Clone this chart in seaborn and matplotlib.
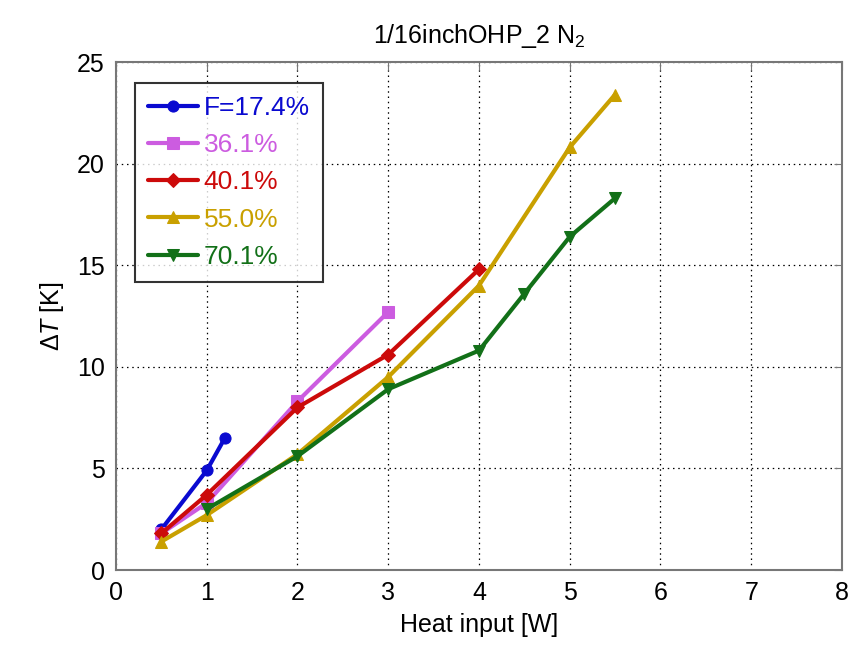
import matplotlib
matplotlib.use("Agg")
import matplotlib.pyplot as plt
import seaborn as sns
import pandas as pd

labels = ["F=17.4%", "36.1%", "40.1%", "55.0%", "70.1%"]
x_174 = [0.5, 1.0, 1.2]
y_174 = [2.0, 4.9, 6.5]
x_361 = [0.5, 1.0, 2.0, 3.0]
y_361 = [1.8, 3.3, 8.3, 12.7]
x_401 = [0.5, 1.0, 2.0, 3.0, 4.0]
y_401 = [1.8, 3.7, 8.0, 10.6, 14.8]
x_550 = [0.5, 1.0, 2.0, 3.0, 4.0, 5.0, 5.5]
y_550 = [1.4, 2.7, 5.7, 9.5, 14.0, 20.8, 23.4]
x_701 = [1.0, 2.0, 3.0, 4.0, 4.5, 5.0, 5.5]
y_701 = [3.0, 5.6, 8.9, 10.8, 13.6, 16.4, 18.3]
colors = ["#0a0ad0", "#cc5ce0", "#cc0a0a", "#c9a000", "#127018"]
markers = ["o", "s", "D", "^", "v"]
msizes = [8, 8, 7, 9, 9]

xs = [x_174, x_361, x_401, x_550, x_701]
ys = [y_174, y_361, y_401, y_550, y_701]
frames = []
for lab, xv, yv in zip(labels, xs, ys):
    frames.append(pd.DataFrame({"x": xv, "y": yv, "series": lab}))
df = pd.concat(frames, ignore_index=True)

sns.set_style("white")
plt.rcParams["font.family"] = ["Liberation Sans", "DejaVu Sans"]
plt.rcParams["mathtext.fontset"] = "custom"
plt.rcParams["mathtext.rm"] = "Liberation Sans"
plt.rcParams["mathtext.it"] = "Liberation Sans:italic"
plt.rcParams["text.color"] = "black"
plt.rcParams["axes.labelcolor"] = "black"
plt.rcParams["xtick.color"] = "black"
plt.rcParams["ytick.color"] = "black"

fig = plt.figure(figsize=(8.53, 6.59), dpi=100)
ax = fig.add_axes([116/853, 1-570/659, (842-116)/853, (570-62)/659])

for lab, c, m, ms in zip(labels, colors, markers, msizes):
    sub = df[df["series"] == lab]
    sns.lineplot(data=sub, x="x", y="y", ax=ax, color=c, marker=m, markersize=ms,
                 markeredgecolor=c, linewidth=3, label=lab, sort=False)

ax.set_xlim(0, 8)
ax.set_ylim(0, 25)
ax.set_xticks(range(0, 9))
ax.set_yticks(range(0, 26, 5))
ax.grid(True, color="black", linestyle=(0, (1.2, 3)), linewidth=0.9)
for s in ax.spines.values():
    s.set_color("#777777")
    s.set_linewidth(1.5)
ax.tick_params(axis="both", labelsize=18, direction="in", length=6, color="#777777",
               labelcolor="black", top=True, right=True, pad=8)
ax.set_xlabel("Heat input [W]", fontsize=18, labelpad=6, color="black")
ax.set_ylabel(r"$\Delta T$ [K]", fontsize=18, labelpad=8, color="black")
ax.set_title(r"1/16inchOHP_2 N$_2$", fontsize=18, pad=14, color="black")

leg = ax.legend(loc="upper left", bbox_to_anchor=(0.026, 0.959), fontsize=19,
                frameon=True, fancybox=False, edgecolor="black", handlelength=1.9,
                handletextpad=0.2, borderpad=0.5, labelspacing=0.5, borderaxespad=0)
leg.get_frame().set_linewidth(1.5)
for t, c in zip(leg.get_texts(), colors):
    t.set_color(c)

fig.savefig("out.png", dpi=100)
